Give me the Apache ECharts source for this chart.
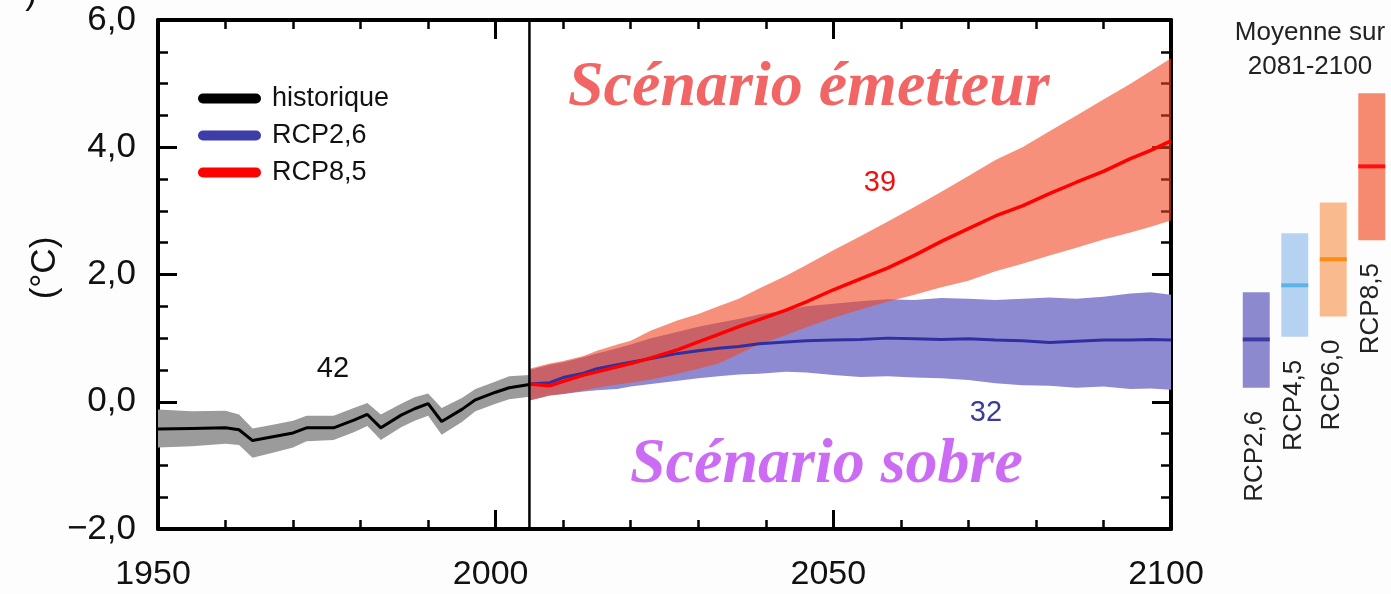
<!DOCTYPE html>
<html>
<head>
<meta charset="utf-8">
<script src="https://cdn.jsdelivr.net/npm/echarts@6/dist/echarts.min.js"></script>
<style>
html,body{margin:0;padding:0;background:#fdfdfd;}
#chart{width:1391px;height:594px;}
</style>
</head>
<body>
<div id="chart"></div>
<script>
// ---------- data ----------
const xTickValues = [1950, 2000, 2050, 2100];
const xTickLabels = ['1950', '2000', '2050', '2100'];
const yTickValues = [-2, 0, 2, 4, 6];
const yTickLabels = ['\u22122,0', '0,0', '2,0', '4,0', '6,0'];

const histYears = [1950,1955,1960,1962,1964,1967,1970,1972,1976,1979,1981,1983,1986,1988,1990,1992,1995,1997,2000,2002,2005];
const histMean  = [-0.43,-0.42,-0.41,-0.44,-0.61,-0.55,-0.49,-0.41,-0.41,-0.29,-0.20,-0.41,-0.21,-0.11,-0.03,-0.31,-0.12,0.03,0.15,0.22,0.27];
const histHigh  = [-0.12,-0.15,-0.14,-0.20,-0.42,-0.36,-0.30,-0.22,-0.22,-0.10,-0.02,-0.20,-0.03,0.07,0.13,-0.10,0.06,0.20,0.32,0.40,0.42];
const histLow   = [-0.72,-0.70,-0.66,-0.68,-0.88,-0.80,-0.72,-0.62,-0.60,-0.48,-0.38,-0.60,-0.40,-0.30,-0.22,-0.52,-0.32,-0.15,-0.03,0.04,0.08];

const projYears = [2005,2008,2010,2013,2015,2018,2020,2023,2027,2030,2033,2036,2039,2043,2046,2050,2054,2058,2062,2066,2070,2074,2078,2082,2086,2090,2094,2097,2100];
const rcp26Mean = [0.28,0.30,0.38,0.45,0.52,0.58,0.62,0.68,0.76,0.80,0.84,0.87,0.91,0.94,0.96,0.97,0.98,1.00,0.99,0.98,0.99,0.97,0.96,0.93,0.95,0.97,0.97,0.98,0.97];
const rcp26High = [0.50,0.58,0.62,0.70,0.76,0.84,0.90,1.00,1.10,1.18,1.24,1.30,1.37,1.44,1.50,1.54,1.58,1.61,1.60,1.63,1.62,1.60,1.62,1.64,1.62,1.65,1.70,1.72,1.68];
const rcp26Low  = [0.02,0.10,0.12,0.16,0.18,0.20,0.24,0.28,0.33,0.37,0.40,0.43,0.44,0.47,0.46,0.42,0.39,0.40,0.38,0.37,0.34,0.29,0.26,0.25,0.22,0.24,0.20,0.21,0.19];
const rcp85Mean = [0.28,0.25,0.32,0.42,0.47,0.55,0.60,0.69,0.82,0.94,1.06,1.18,1.29,1.44,1.57,1.76,1.93,2.10,2.30,2.52,2.72,2.92,3.08,3.27,3.45,3.62,3.82,3.95,4.10];
const rcp85High = [0.52,0.60,0.64,0.72,0.80,0.90,0.96,1.12,1.28,1.38,1.50,1.62,1.78,1.98,2.15,2.38,2.60,2.83,3.06,3.30,3.55,3.80,4.00,4.25,4.50,4.75,5.00,5.20,5.40];
const rcp85Low  = [0.02,0.10,0.12,0.18,0.22,0.27,0.30,0.35,0.44,0.52,0.60,0.75,0.90,1.05,1.17,1.32,1.45,1.57,1.68,1.80,1.90,2.05,2.17,2.30,2.42,2.55,2.66,2.75,2.85];

const vlineYear = 2005;

const periodLabels = ['RCP2,6', 'RCP4,5', 'RCP6,0', 'RCP8,5'];
const periodLow  = [0.22, 1.02, 1.34, 2.54];
const periodMean = [0.98, 1.83, 2.24, 3.70];
const periodHigh = [1.72, 2.65, 3.13, 4.85];

// ---------- styles ----------
const SANS = '"Liberation Sans", Arial, sans-serif';
const SERIF = '"Liberation Serif", "Times New Roman", serif';
const barColors  = ['#8d89cf', '#b5d3f1', '#f9bb8e', '#f68a70'];
const meanColors = ['#3a3aa6', '#5cb4e6', '#ff8a14', '#ff1010'];

function zip(xs, ys) { return xs.map((x, i) => [x, ys[i]]); }

function bandSeries(name, xs, lo, hi, color, z) {
  return {
    type: 'custom', name: name, xAxisIndex: 0, yAxisIndex: 0,
    data: [[xs[0], lo[0]]], clip: true, silent: true, z: z,
    renderItem: function (params, api) {
      const pts = [];
      for (let i = 0; i < xs.length; i++) pts.push(api.coord([xs[i], hi[i]]));
      for (let i = xs.length - 1; i >= 0; i--) pts.push(api.coord([xs[i], lo[i]]));
      return { type: 'polygon', shape: { points: pts }, style: { fill: color } };
    }
  };
}

const tickStyle = { inside: true, length: 19, lineStyle: { color: '#000', width: 3 } };
const axisLineStyle = { show: true, onZero: false, lineStyle: { color: '#000', width: 4 } };
const minorX = { show: true, splitNumber: 5, length: 9, lineStyle: { color: '#000', width: 2.5 } };
const minorY = { show: true, splitNumber: 4, length: 10, lineStyle: { color: '#000', width: 2.5 } };

const chart = echarts.init(document.getElementById('chart'), null, { renderer: 'canvas' });

const option = {
  animation: false,
  backgroundColor: '#fdfdfd',
  grid: [
    { left: 158, top: 20, width: 1013, height: 509, show: true, backgroundColor: '#ffffff', borderWidth: 0 },
    { left: 1237, top: 20, width: 171, height: 509 }
  ],
  legend: {
    orient: 'vertical', left: 193, top: 80,
    data: ['historique', 'RCP2,6', 'RCP8,5'],
    itemWidth: 63, itemHeight: 10, itemGap: 10,
    icon: 'path://M5,0H58A5,5,0,0,1,58,10H5A5,5,0,0,1,5,0Z',
    itemStyle: { borderWidth: 0 },
    textStyle: { fontFamily: SANS, fontSize: 27, color: '#111', padding: [0, 0, 0, 6] },
    selectedMode: false
  },
  xAxis: [
    {
      gridIndex: 0, type: 'value', position: 'bottom', min: 1950, max: 2100, interval: 50,
      axisLine: axisLineStyle, axisTick: tickStyle, minorTick: minorX,
      splitLine: { show: false },
      axisLabel: {
        margin: 29, fontFamily: SANS, fontSize: 34, color: '#111', padding: [0, 10, 0, 0],
        formatter: v => { const k = xTickValues.indexOf(v); return k >= 0 ? xTickLabels[k] : ''; }
      }
    },
    {
      gridIndex: 0, type: 'value', position: 'top', min: 1950, max: 2100, interval: 50,
      axisLine: axisLineStyle, axisTick: tickStyle, minorTick: minorX,
      splitLine: { show: false }, axisLabel: { show: false }
    },
    { gridIndex: 1, type: 'category', data: periodLabels, show: false }
  ],
  yAxis: [
    {
      gridIndex: 0, type: 'value', position: 'left', min: -2, max: 6, interval: 2,
      axisLine: axisLineStyle, axisTick: tickStyle, minorTick: minorY,
      splitLine: { show: false },
      axisLabel: {
        margin: 22, fontFamily: SANS, fontSize: 35, color: '#111',
        formatter: v => { const k = yTickValues.indexOf(v); return k >= 0 ? yTickLabels[k] : ''; }
      }
    },
    {
      gridIndex: 0, type: 'value', position: 'right', min: -2, max: 6, interval: 2,
      axisLine: axisLineStyle, axisTick: tickStyle, minorTick: minorY,
      splitLine: { show: false }, axisLabel: { show: false }
    },
    { gridIndex: 1, type: 'value', min: -2, max: 6, show: false }
  ],
  series: [
    bandSeries('bande historique', histYears, histLow, histHigh, '#9b9b9b', 1),
    bandSeries('bande RCP2,6', projYears, rcp26Low, rcp26High, '#8e8ad2', 2),
    bandSeries('bande RCP8,5', projYears, rcp85Low, rcp85High, 'rgba(240,70,35,0.6)', 3),
    {
      name: 'historique', type: 'line', xAxisIndex: 0, yAxisIndex: 0, z: 5,
      data: zip(histYears, histMean), showSymbol: false, symbol: 'none',
      color: '#000', lineStyle: { color: '#000', width: 3 }
    },
    {
      name: 'RCP2,6', type: 'line', xAxisIndex: 0, yAxisIndex: 0, z: 5,
      data: zip(projYears, rcp26Mean), showSymbol: false, symbol: 'none',
      color: '#3c3caa', lineStyle: { color: '#2f2fa0', width: 3 }
    },
    {
      name: 'RCP8,5', type: 'line', xAxisIndex: 0, yAxisIndex: 0, z: 6,
      data: zip(projYears, rcp85Mean), showSymbol: false, symbol: 'none',
      color: '#ff0000', lineStyle: { color: '#ff0000', width: 3.5 }
    },
    {
      name: 'ligne 2005', type: 'line', xAxisIndex: 0, yAxisIndex: 0, z: 7,
      data: [[vlineYear, -2], [vlineYear, 6]], showSymbol: false, symbol: 'none', silent: true,
      lineStyle: { color: '#000', width: 2.5 }
    },
    {
      name: 'Moyenne 2081-2100', type: 'custom', xAxisIndex: 2, yAxisIndex: 2, z: 5,
      data: periodLabels.map((_, i) => [i, periodLow[i], periodMean[i], periodHigh[i]]),
      renderItem: function (params, api) {
        const i = api.value(0);
        const lo = api.coord([i, api.value(1)]);
        const mid = api.coord([i, api.value(2)]);
        const hi = api.coord([i, api.value(3)]);
        const w = api.size([1, 0])[0] * 0.7;
        return {
          type: 'group',
          children: [
            { type: 'rect', shape: { x: lo[0] - w / 2, y: hi[1], width: w, height: lo[1] - hi[1] }, style: { fill: barColors[i] } },
            { type: 'rect', shape: { x: lo[0] - w / 2, y: mid[1] - 2, width: w, height: 4 }, style: { fill: meanColors[i] } },
            { type: 'text', x: lo[0] - 1, y: lo[1] + 23, rotation: Math.PI / 2,
              style: { text: periodLabels[i], font: '26px ' + SANS, fill: '#222', align: 'right', verticalAlign: 'middle' } }
          ]
        };
      }
    }
  ],
  graphic: [
    { type: 'text', x: 45, y: 268, rotation: Math.PI / 2,
      style: { text: '(°C)', font: '35px ' + SANS, fill: '#111', align: 'center', verticalAlign: 'middle' } },
    { type: 'text', x: 31, y: 12,
      style: { text: ')', font: '35px ' + SANS, fill: '#111', align: 'center', verticalAlign: 'bottom' } },
    { type: 'text', x: 1310, y: 33, z: 10,
      style: { text: 'Moyenne sur', font: '26px ' + SANS, fill: '#222', align: 'center', verticalAlign: 'middle' } },
    { type: 'text', x: 1310, y: 67, z: 10,
      style: { text: '2081-2100', font: '26px ' + SANS, fill: '#222', align: 'center', verticalAlign: 'middle' } },
    { type: 'text', x: 333, y: 369, z: 10,
      style: { text: '42', font: '29px ' + SANS, fill: '#111', align: 'center', verticalAlign: 'middle' } },
    { type: 'text', x: 880, y: 183, z: 10,
      style: { text: '39', font: '29px ' + SANS, fill: '#ee1111', align: 'center', verticalAlign: 'middle' } },
    { type: 'text', x: 986, y: 413, z: 10,
      style: { text: '32', font: '29px ' + SANS, fill: '#3a3aa0', align: 'center', verticalAlign: 'middle' } },
    { type: 'text', x: 568, y: 88, z: 10,
      style: { text: 'Scénario émetteur', font: 'italic bold 64px ' + SERIF, fill: '#f26565', align: 'left', verticalAlign: 'middle' } },
    { type: 'text', x: 630, y: 465, z: 10,
      style: { text: 'Scénario sobre', font: 'italic bold 64px ' + SERIF, fill: '#cc6cf5', align: 'left', verticalAlign: 'middle' } }
  ]
};

chart.setOption(option);
</script>
</body>
</html>
